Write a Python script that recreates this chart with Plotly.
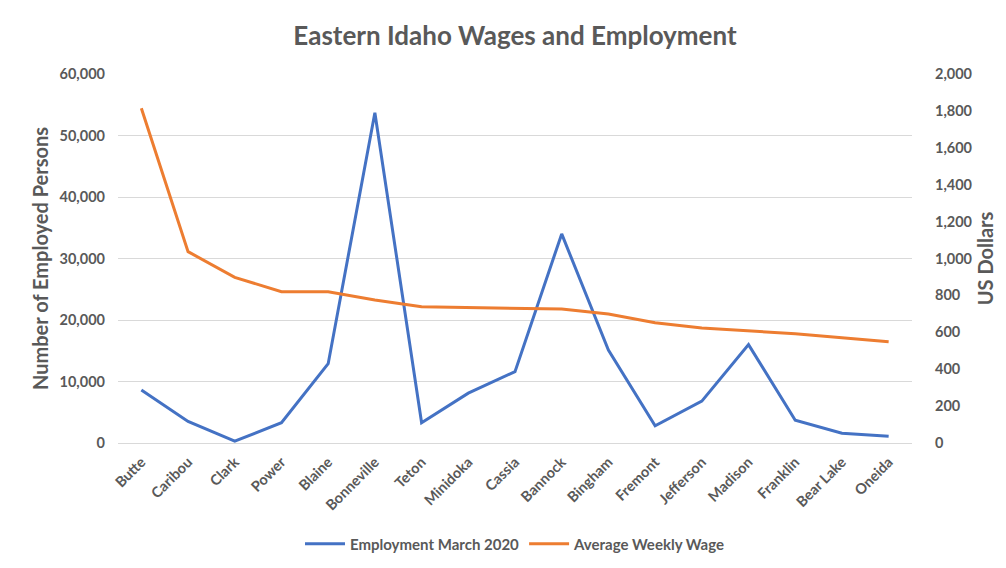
import plotly.graph_objects as go

counties = ["Butte", "Caribou", "Clark", "Power", "Blaine", "Bonneville", "Teton",
            "Minidoka", "Cassia", "Bannock", "Bingham", "Fremont", "Jefferson",
            "Madison", "Franklin", "Bear Lake", "Oneida"]
employment = [8600, 3500, 300, 3300, 12900, 53700, 3300, 8100, 11600, 34000,
              15100, 2800, 6800, 16000, 3700, 1600, 1100]
weekly_wage = [1814, 1037, 898, 820, 820, 775, 739, 736, 730, 726, 699, 652,
               623, 609, 592, 571, 549]

left_ticks = [0, 10000, 20000, 30000, 40000, 50000, 60000]
right_ticks = [0, 200, 400, 600, 800, 1000, 1200, 1400, 1600, 1800, 2000]

FONT = "Lato"
GREY = "#595959"

fig = go.Figure()
fig.add_trace(go.Scatter(x=counties, y=employment, name="Employment March 2020",
                         mode="lines", line=dict(color="#4472C4", width=3), yaxis="y"))
fig.add_trace(go.Scatter(x=counties, y=weekly_wage, name="Average Weekly Wage",
                         mode="lines", line=dict(color="#ED7D31", width=3), yaxis="y2"))

ytickfont = dict(size=14.5, color=GREY, family=FONT, weight="bold")
xtickfont = dict(size=14.5, color=GREY, family=FONT, weight="bold")

fig.update_layout(
    width=1006, height=568,
    margin=dict(l=110, r=102, t=66, b=133),
    paper_bgcolor="white", plot_bgcolor="white",
    font=dict(family=FONT, color=GREY, size=12),
    title=dict(text="<b>Eastern Idaho Wages and Employment</b>", x=0.5, xanchor="center",
               xref="paper", y=0.951, yanchor="middle",
               font=dict(size=26, color=GREY, family=FONT)),
    xaxis=dict(tickangle=-45, tickfont=xtickfont, showgrid=False,
               showline=True, linecolor="#D9D9D9", linewidth=1, ticks="",
               ticklabelstandoff=4,
               range=[-0.5, len(counties) - 0.5]),
    yaxis=dict(range=[0, 60000], tickvals=left_ticks, tickformat=",",
               showgrid=True, gridcolor="#D9D9D9", gridwidth=1, zeroline=False,
               tickfont=ytickfont, ticks="", ticklen=0, ticklabelstandoff=12,
               title=dict(text="<b>Number of Employed Persons</b>",
                          font=dict(size=20, color=GREY), standoff=5)),
    yaxis2=dict(range=[0, 2000], tickvals=right_ticks, tickformat=",",
                overlaying="y", side="right", showgrid=False, zeroline=False,
                tickfont=ytickfont, ticklabelstandoff=22,
                title=dict(text="<b>US Dollars</b>", font=dict(size=20, color=GREY), standoff=6)),
    legend=dict(orientation="h", x=0.5, xanchor="center", y=-0.274, yanchor="middle",
                font=dict(size=15, color=GREY, weight="bold"), itemwidth=40),
    showlegend=True,
)

fig.write_html("out.html")
